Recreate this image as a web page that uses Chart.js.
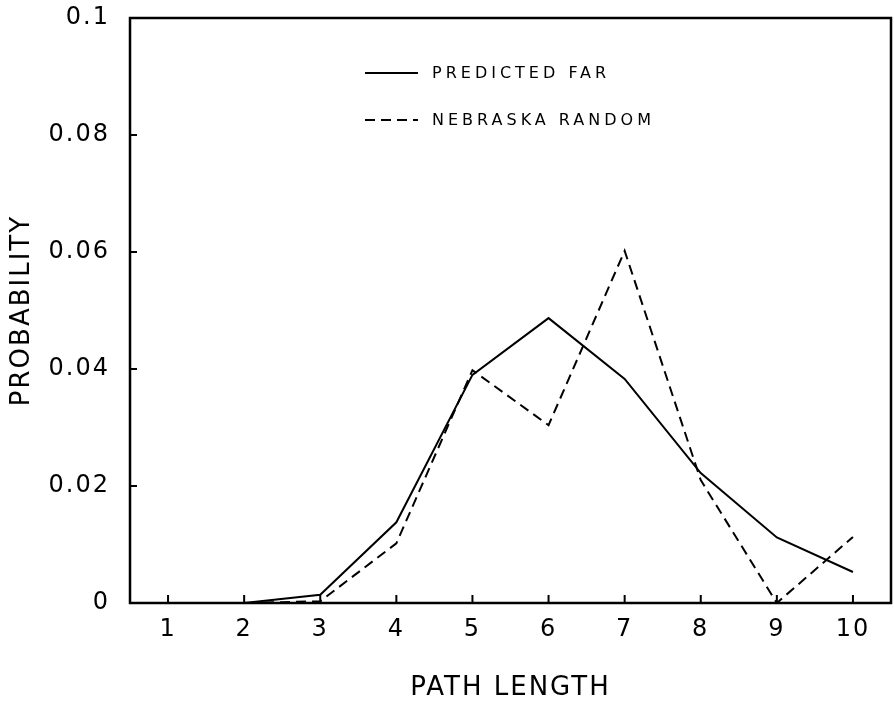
<!DOCTYPE html>
<html>
<head>
<meta charset="utf-8">
<script src="https://cdn.jsdelivr.net/npm/chart.js@4.4.1/dist/chart.umd.min.js"></script>
<style>
  html, body { margin: 0; padding: 0; background: #fff; }
  #wrap { width: 894px; height: 701px; }
</style>
</head>
<body>
<div id="wrap"><canvas id="pathChart" width="894" height="701"></canvas></div>
<script>
// path length categories and the two probability curves
const pathLengths = ['1', '2', '3', '4', '5', '6', '7', '8', '9', '10'];
const predictedFar = [0, 0, 0.0014, 0.0138, 0.039, 0.0487, 0.0383, 0.0222, 0.0112, 0.0053];
const nebraskaRandom = [0, 0, 0.0003, 0.0102, 0.0398, 0.0304, 0.0602, 0.021, 0, 0.0113];
const yTicks = [0, 0.02, 0.04, 0.06, 0.08, 0.1];
const yTickLabels = ['0', '0.02', '0.04', '0.06', '0.08', '0.1'];

const FONT = 'DejaVu Sans, Liberation Sans, sans-serif';

// white background, box frame and inward tick marks
const framePlugin = {
    id: 'frame',
    beforeDraw(chart) {
        const ctx = chart.ctx;
        ctx.save();
        ctx.fillStyle = '#fff';
        ctx.fillRect(0, 0, chart.width, chart.height);
        ctx.restore();
        // lettering is spaced out a little
        ctx.letterSpacing = '2px';
    },
    afterDraw(chart) {
        const ctx = chart.ctx;
        const a = chart.chartArea;
        const xs = chart.scales.x, ys = chart.scales.y;
        ctx.save();
        ctx.strokeStyle = '#000';
        ctx.lineWidth = 2.5;
        ctx.strokeRect(a.left, a.top, a.right - a.left, a.bottom - a.top);
        ctx.lineWidth = 2;
        ctx.beginPath();
        pathLengths.forEach((_, i) => {
            const px = xs.getPixelForValue(i);
            ctx.moveTo(px, a.bottom);
            ctx.lineTo(px, a.bottom - 8);
        });
        yTicks.forEach(v => {
            const py = ys.getPixelForValue(v);
            ctx.moveTo(a.left, py);
            ctx.lineTo(a.left + 7, py);
        });
        ctx.stroke();
        ctx.restore();
    }
};

// legend drawn inside the plot, one row per dataset
const insideLegend = {
    id: 'insideLegend',
    afterDraw(chart) {
        const ctx = chart.ctx;
        const rows = [73, 120];
        ctx.save();
        ctx.font = '16px ' + FONT;
        ctx.letterSpacing = '4px';
        ctx.textBaseline = 'middle';
        ctx.fillStyle = '#000';
        chart.data.datasets.forEach((ds, i) => {
            const y = rows[i];
            ctx.strokeStyle = ds.borderColor;
            ctx.lineWidth = ds.borderWidth;
            ctx.setLineDash(ds.borderDash || []);
            ctx.beginPath();
            ctx.moveTo(365, y);
            ctx.lineTo(418, y);
            ctx.stroke();
            ctx.fillText(ds.label, 432, y + 1);
        });
        ctx.restore();
    }
};

const ctxPath = document.getElementById('pathChart').getContext('2d');
const pathChart = new Chart(ctxPath, {
    type: 'line',
    data: {
        labels: pathLengths,
        datasets: [{
            label: 'PREDICTED FAR',
            data: predictedFar,
            borderColor: '#000',
            borderWidth: 2,
            pointRadius: 0,
            tension: 0,
            fill: false
        }, {
            label: 'NEBRASKA RANDOM',
            data: nebraskaRandom,
            borderColor: '#000',
            borderWidth: 2,
            borderDash: [10, 6],
            pointRadius: 0,
            tension: 0,
            fill: false
        }]
    },
    options: {
        responsive: false,
        animation: false,
        devicePixelRatio: 1,
        layout: { padding: { left: 0, right: 3, top: 18, bottom: 0 } },
        plugins: {
            legend: { display: false },
            tooltip: { enabled: false }
        },
        scales: {
            x: {
                type: 'category',
                offset: true,
                grid: { display: false, drawTicks: false },
                border: { display: false },
                ticks: {
                    color: '#000',
                    padding: 12,
                    maxRotation: 0,
                    font: { family: FONT, size: 24 }
                },
                title: {
                    display: true,
                    text: 'PATH LENGTH',
                    color: '#000',
                    padding: { top: 0, bottom: 0 },
                    font: { family: FONT, size: 26, lineHeight: 1 }
                },
                afterFit(scale) {
                    scale.height = 98;
                    scale.paddingLeft = 0;
                    scale.paddingRight = 0;
                }
            },
            y: {
                min: 0,
                max: 0.1,
                grid: { display: false, drawTicks: false },
                border: { display: false },
                afterBuildTicks(scale) {
                    scale.ticks = yTicks.map(v => ({ value: v }));
                },
                ticks: {
                    color: '#000',
                    padding: 20,
                    font: { family: FONT, size: 24 },
                    callback: (v) => yTickLabels[yTicks.indexOf(v)]
                },
                title: {
                    display: true,
                    text: 'PROBABILITY',
                    color: '#000',
                    padding: { top: 9, bottom: 0 },
                    font: { family: FONT, size: 26, lineHeight: 1 }
                },
                afterFit(scale) {
                    scale.width = 130;
                    scale.paddingTop = 0;
                    scale.paddingBottom = 0;
                }
            }
        }
    },
    plugins: [framePlugin, insideLegend]
});
</script>
</body>
</html>
